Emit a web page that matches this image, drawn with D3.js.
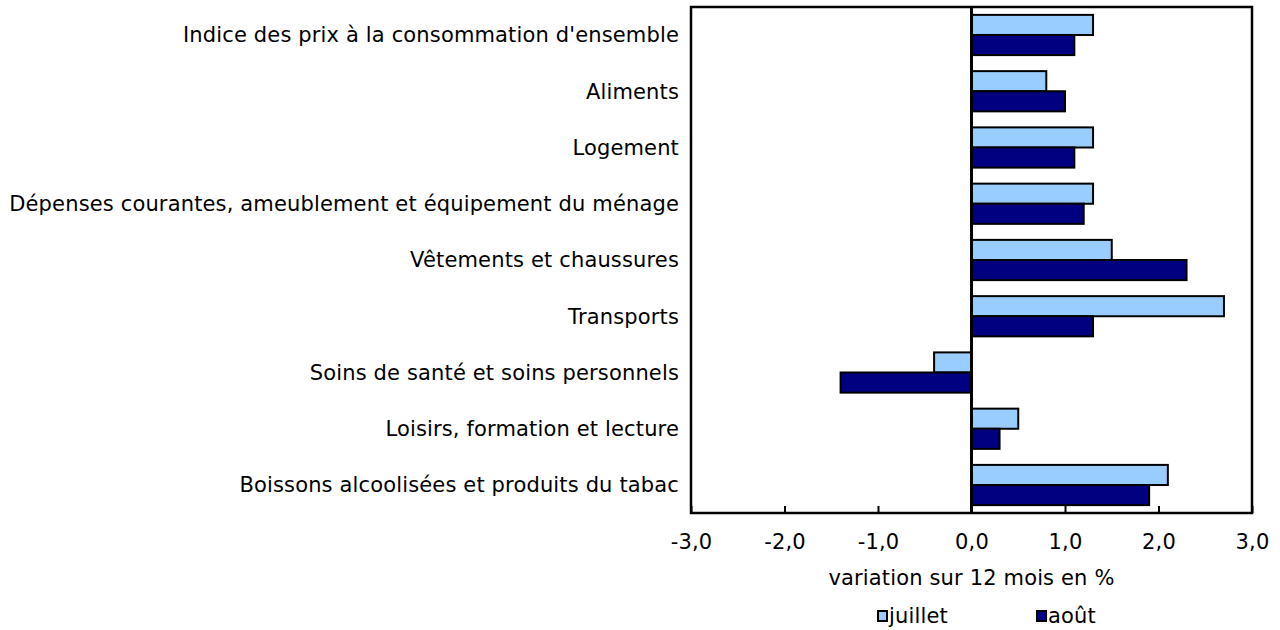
<!DOCTYPE html>
<html>
<head>
<meta charset="utf-8">
<script src="https://cdn.jsdelivr.net/npm/d3@7"></script>
<style>
  body { margin: 0; background: #fff; }
  text { font-family: "DejaVu Sans", Verdana, sans-serif; fill: #000; letter-spacing: 0.15px; }
</style>
</head>
<body>
<div id="chart"></div>
<script>
// categories, top to bottom
const categories = [
  "Indice des prix à la consommation d'ensemble",
  "Aliments",
  "Logement",
  "Dépenses courantes, ameublement et équipement du ménage",
  "Vêtements et chaussures",
  "Transports",
  "Soins de santé et soins personnels",
  "Loisirs, formation et lecture",
  "Boissons alcoolisées et produits du tabac"
];
const juillet = [1.3, 0.8, 1.3, 1.3, 1.5, 2.7, -0.4, 0.5, 2.1];
const aout = [1.1, 1.0, 1.1, 1.2, 2.3, 1.3, -1.4, 0.3, 1.9];
const seriesNames = ["juillet", "août"];
const seriesColors = ["#99CCFF", "#000080"];
const xTicks = [-3, -2, -1, 0, 1, 2, 3];

const width = 1280, height = 630;
const plotLeft = 691, plotRight = 1252, plotTop = 7, plotBottom = 513;
const fontSize = 21;

const svg = d3.select("#chart").append("svg")
  .attr("width", width)
  .attr("height", height);

const x = d3.scaleLinear().domain([-3, 3]).range([plotLeft, plotRight]);
const y = d3.scaleBand().domain(categories).range([plotTop, plotBottom])
  .paddingInner(0.285).paddingOuter(0.14);
const sub = d3.scaleBand().domain(seriesNames).range([0, y.bandwidth()]);

const rows = categories.map((c, i) => ({ cat: c, vals: [juillet[i], aout[i]] }));

// bars
const g = svg.append("g");
rows.forEach(r => {
  r.vals.forEach((v, k) => {
    g.append("rect")
      .attr("x", x(Math.min(0, v)))
      .attr("y", y(r.cat) + sub(seriesNames[k]))
      .attr("width", Math.abs(x(v) - x(0)))
      .attr("height", sub.bandwidth())
      .attr("fill", seriesColors[k])
      .attr("stroke", "#000")
      .attr("stroke-width", 2);
  });
});

// zero line
svg.append("line")
  .attr("x1", x(0)).attr("x2", x(0))
  .attr("y1", plotTop).attr("y2", plotBottom)
  .attr("stroke", "#000").attr("stroke-width", 3);

// frame
svg.append("rect")
  .attr("x", plotLeft).attr("y", plotTop)
  .attr("width", plotRight - plotLeft).attr("height", plotBottom - plotTop)
  .attr("fill", "none").attr("stroke", "#000").attr("stroke-width", 2.5);

// x axis, ticks pointing inward
const xAxis = d3.axisBottom(x)
  .tickValues(xTicks)
  .tickSize(-7)
  .tickFormat(d => d3.format(".1f")(d).replace(".", ",").replace("\u2212", "-"));
const ax = svg.append("g")
  .attr("transform", `translate(0,${plotBottom})`)
  .call(xAxis);
ax.select(".domain").remove();
ax.selectAll(".tick line").attr("stroke", "#000").attr("stroke-width", 2);
ax.selectAll(".tick text")
  .attr("y", 29)
  .attr("dy", "0.35em")
  .attr("font-size", fontSize)
  .style("font-family", '"DejaVu Sans", Verdana, sans-serif');

// category labels
svg.append("g").selectAll("text")
  .data(categories)
  .join("text")
  .attr("x", plotLeft - 12)
  .attr("y", d => y(d) + y.bandwidth() / 2)
  .attr("text-anchor", "end")
  .attr("dy", "0.35em")
  .attr("font-size", fontSize)
  .text(d => d);

// axis title
svg.append("text")
  .attr("x", x(0))
  .attr("y", 578)
  .attr("dy", "0.35em")
  .attr("text-anchor", "middle")
  .attr("font-size", fontSize)
  .text("variation sur 12 mois en %");

// legend
const legX = [878, 1037];
seriesNames.forEach((s, k) => {
  svg.append("rect")
    .attr("x", legX[k]).attr("y", 611)
    .attr("width", 9).attr("height", 10)
    .attr("fill", seriesColors[k])
    .attr("stroke", "#000").attr("stroke-width", 2);
  svg.append("text")
    .attr("x", legX[k] + 11)
    .attr("y", 616)
    .attr("dy", "0.35em")
    .attr("font-size", fontSize)
    .text(s);
});
</script>
</body>
</html>
